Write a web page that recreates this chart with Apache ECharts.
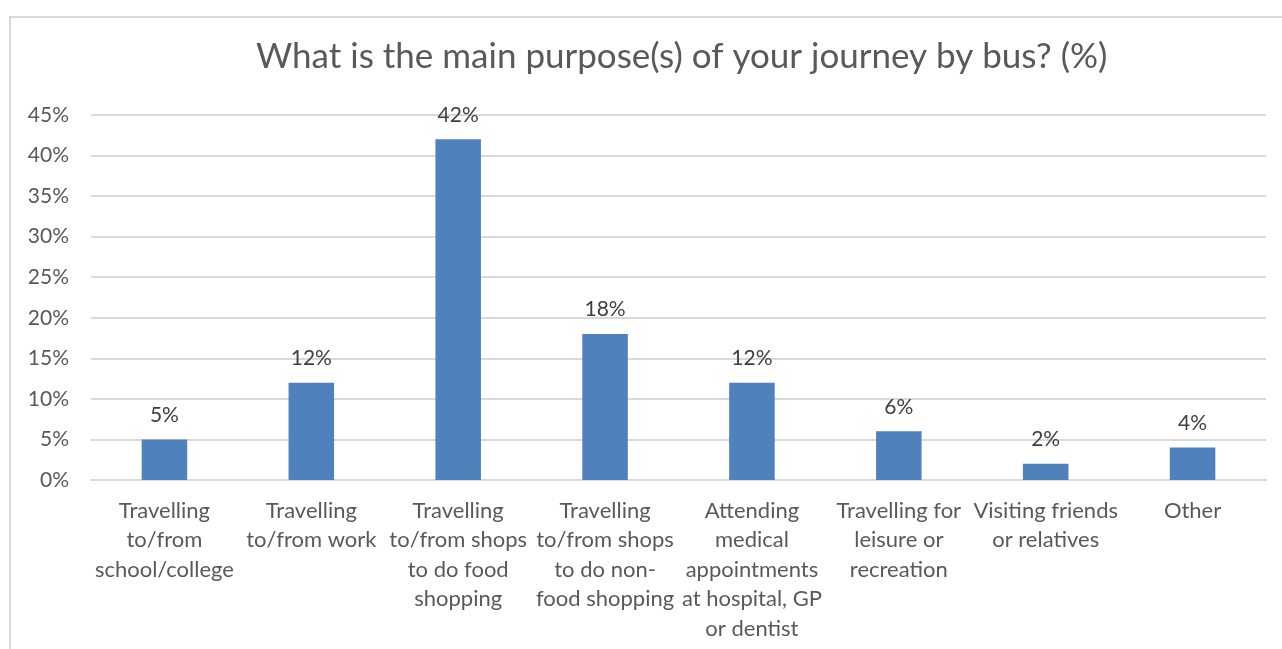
<!DOCTYPE html>
<html><head><meta charset="utf-8">
<script src="https://cdn.jsdelivr.net/npm/echarts@6/dist/echarts.min.js"></script>
<style>
html,body{margin:0;padding:0;background:#fff;}
#frame{position:absolute;left:9px;top:16px;width:1290px;height:650px;border:2px solid #d9d9d9;box-sizing:border-box;}
#c{position:absolute;left:0;top:0;width:1282px;height:649px;}
</style></head>
<body>
<div id="frame"></div>
<div id="c"></div>
<script>
var titleText = 'What is the main purpose(s) of your journey by bus? (%)';
var categories = [
  'Travelling\nto/from\nschool/college',
  'Travelling\nto/from work',
  'Travelling\nto/from shops\nto do food\nshopping',
  'Travelling\nto/from shops\nto do non-\nfood shopping',
  'Attending\nmedical\nappointments\nat hospital, GP\nor dentist',
  'Travelling for\nleisure or\nrecreation',
  'Visiting friends\nor relatives',
  'Other'
];
var values = [5, 12, 42, 18, 12, 6, 2, 4];
var yTicks = [0, 5, 10, 15, 20, 25, 30, 35, 40, 45];

var FONT = 'Lato, "Open Sans", sans-serif';
var chart = echarts.init(document.getElementById('c'), null, {renderer:'canvas'});
chart.setOption({
  animation:false,
  title:{text:titleText,left:251,top:34,textStyle:{fontFamily:FONT,fontSize:35,fontWeight:'normal',color:'#595959'}},
  grid:{left:91,right:16,top:115,bottom:169,containLabel:false},
  xAxis:{type:'category',data:categories,
    axisLine:{show:true,lineStyle:{color:'#d9d9d9',width:2}},
    axisTick:{show:false},
    axisLabel:{interval:0,fontFamily:FONT,fontSize:22,color:'#595959',lineHeight:29.5,margin:16}},
  yAxis:{type:'value',min:yTicks[0],max:yTicks[yTicks.length-1],interval:5,
    axisLine:{show:false},axisTick:{show:false},
    splitLine:{lineStyle:{color:'#d9d9d9',width:2}},
    axisLabel:{formatter:'{value}%',fontFamily:FONT,fontSize:21,color:'#595959',margin:22}},
  series:[{type:'bar',data:values,barWidth:'31%',
    itemStyle:{color:'#4f81bd'},
    label:{show:true,position:'top',distance:14,formatter:'{c}%',fontFamily:FONT,fontSize:21,color:'#404040'}}]
});
</script>
</body></html>
